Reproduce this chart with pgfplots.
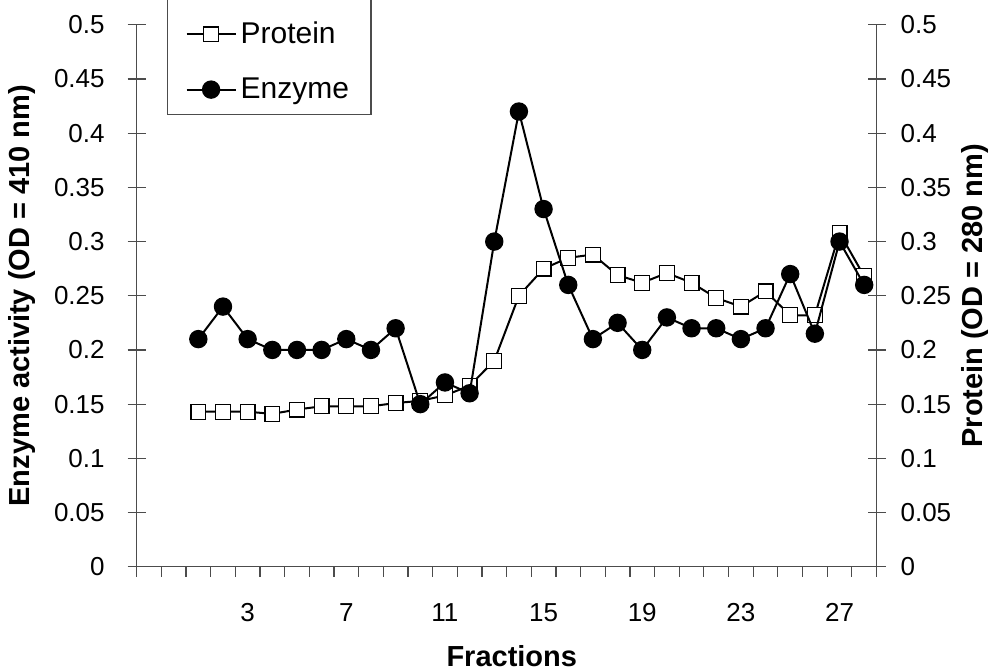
\documentclass[border=0pt]{standalone}
\usepackage{fontspec}
\setmainfont{Liberation Sans}
\usepackage{pgfplots}
\pgfplotsset{compat=1.18}

\definecolor{axgray}{gray}{0.3}

\pgfplotstableread{
x protein enzyme
1  0.143 0.21
2  0.143 0.24
3  0.143 0.21
4  0.141 0.20
5  0.145 0.20
6  0.148 0.20
7  0.148 0.21
8  0.148 0.20
9  0.151 0.22
10 0.153 0.15
11 0.158 0.17
12 0.167 0.16
13 0.190 0.30
14 0.250 0.42
15 0.275 0.33
16 0.285 0.26
17 0.288 0.21
18 0.269 0.225
19 0.262 0.20
20 0.271 0.23
21 0.262 0.22
22 0.248 0.22
23 0.240 0.21
24 0.254 0.22
25 0.232 0.27
26 0.232 0.215
27 0.308 0.30
28 0.268 0.26
}\fractions

\pgfplotsset{
  base/.style={
    scale only axis, width=370pt, height=271pt,
    xmin=-1.5, xmax=28.5, ymin=0, ymax=0.5,
    ytick={0,0.05,...,0.5},
    scaled y ticks=false,
    yticklabel style={/pgf/number format/fixed,/pgf/number format/precision=2},
    /pgf/number format/assume math mode=true,
    tick label style={font=\fontsize{13}{15}\selectfont},
    label style={font=\bfseries\fontsize{14.5}{17}\selectfont},
    axis line style={axgray, line width=0.6pt},
    every tick/.style={axgray, line width=0.6pt},
    tick align=center, major tick length=9pt,
    clip=false,
  },
  protline/.style={black, line width=1pt, mark=square*, mark size=3.7pt,
    mark options={fill=white, draw=black, line width=0.6pt}},
  enzline/.style={black, line width=1pt, mark=*, mark size=4.1pt,
    mark options={fill=black}},
}

\begin{document}
\begin{tikzpicture}
\useasboundingbox (-68.35pt,-52.1pt) rectangle (426.75pt,283.4pt);
\clip (-68.35pt,-52.1pt) rectangle (426.75pt,283.4pt);
% right axis: protein
\begin{axis}[base,
  axis y line*=right, axis x line=none,
  yticklabel style={anchor=west, xshift=4pt},
  ylabel={Protein (OD = 280 nm)},
  ylabel style={at={(axis description cs:1.133,0.5)}, anchor=center},
]
\addplot[protline] table[x=x, y=protein] {\fractions};
\end{axis}
% left axis and x axis: enzyme
\begin{axis}[base,
  axis y line*=left, axis x line*=bottom,
  yticklabel style={anchor=east, xshift=-8pt},
  xtick={3,7,...,27}, major x tick style={draw=none},
  minor xtick={-1.5,-0.5,...,28.5},
  minor tick length=5pt,
  minor x tick style={yshift=-2.5pt},
  xticklabel style={anchor=north, yshift=-10.5pt},
  xlabel={Fractions},
  xlabel style={at={(axis description cs:0.507,-0.1659)}, anchor=center},
  ylabel={Enzyme activity (OD = 410 nm)},
  ylabel style={at={(axis description cs:-0.155,0.5)}, anchor=center},
  legend cell align=left,
  legend style={at={(axis description cs:0.041,0.8335)}, anchor=south west,
    draw=axgray, line width=0.6pt, font=\fontsize{15}{17}\selectfont,
    row sep=11.5pt, inner xsep=9pt, inner ysep=4.5pt},
  legend image code/.code={\draw[mark repeat=2, mark phase=2]
    plot coordinates {(0pt,0pt) (12.25pt,0pt) (24.5pt,0pt)};},
]
\addlegendimage{empty legend}
\addlegendentry{}
\addlegendimage{protline}
\addlegendentry{Protein}
\addplot[enzline] table[x=x, y=enzyme] {\fractions};
\addlegendentry{Enzyme}
\end{axis}
\end{tikzpicture}
\end{document}
